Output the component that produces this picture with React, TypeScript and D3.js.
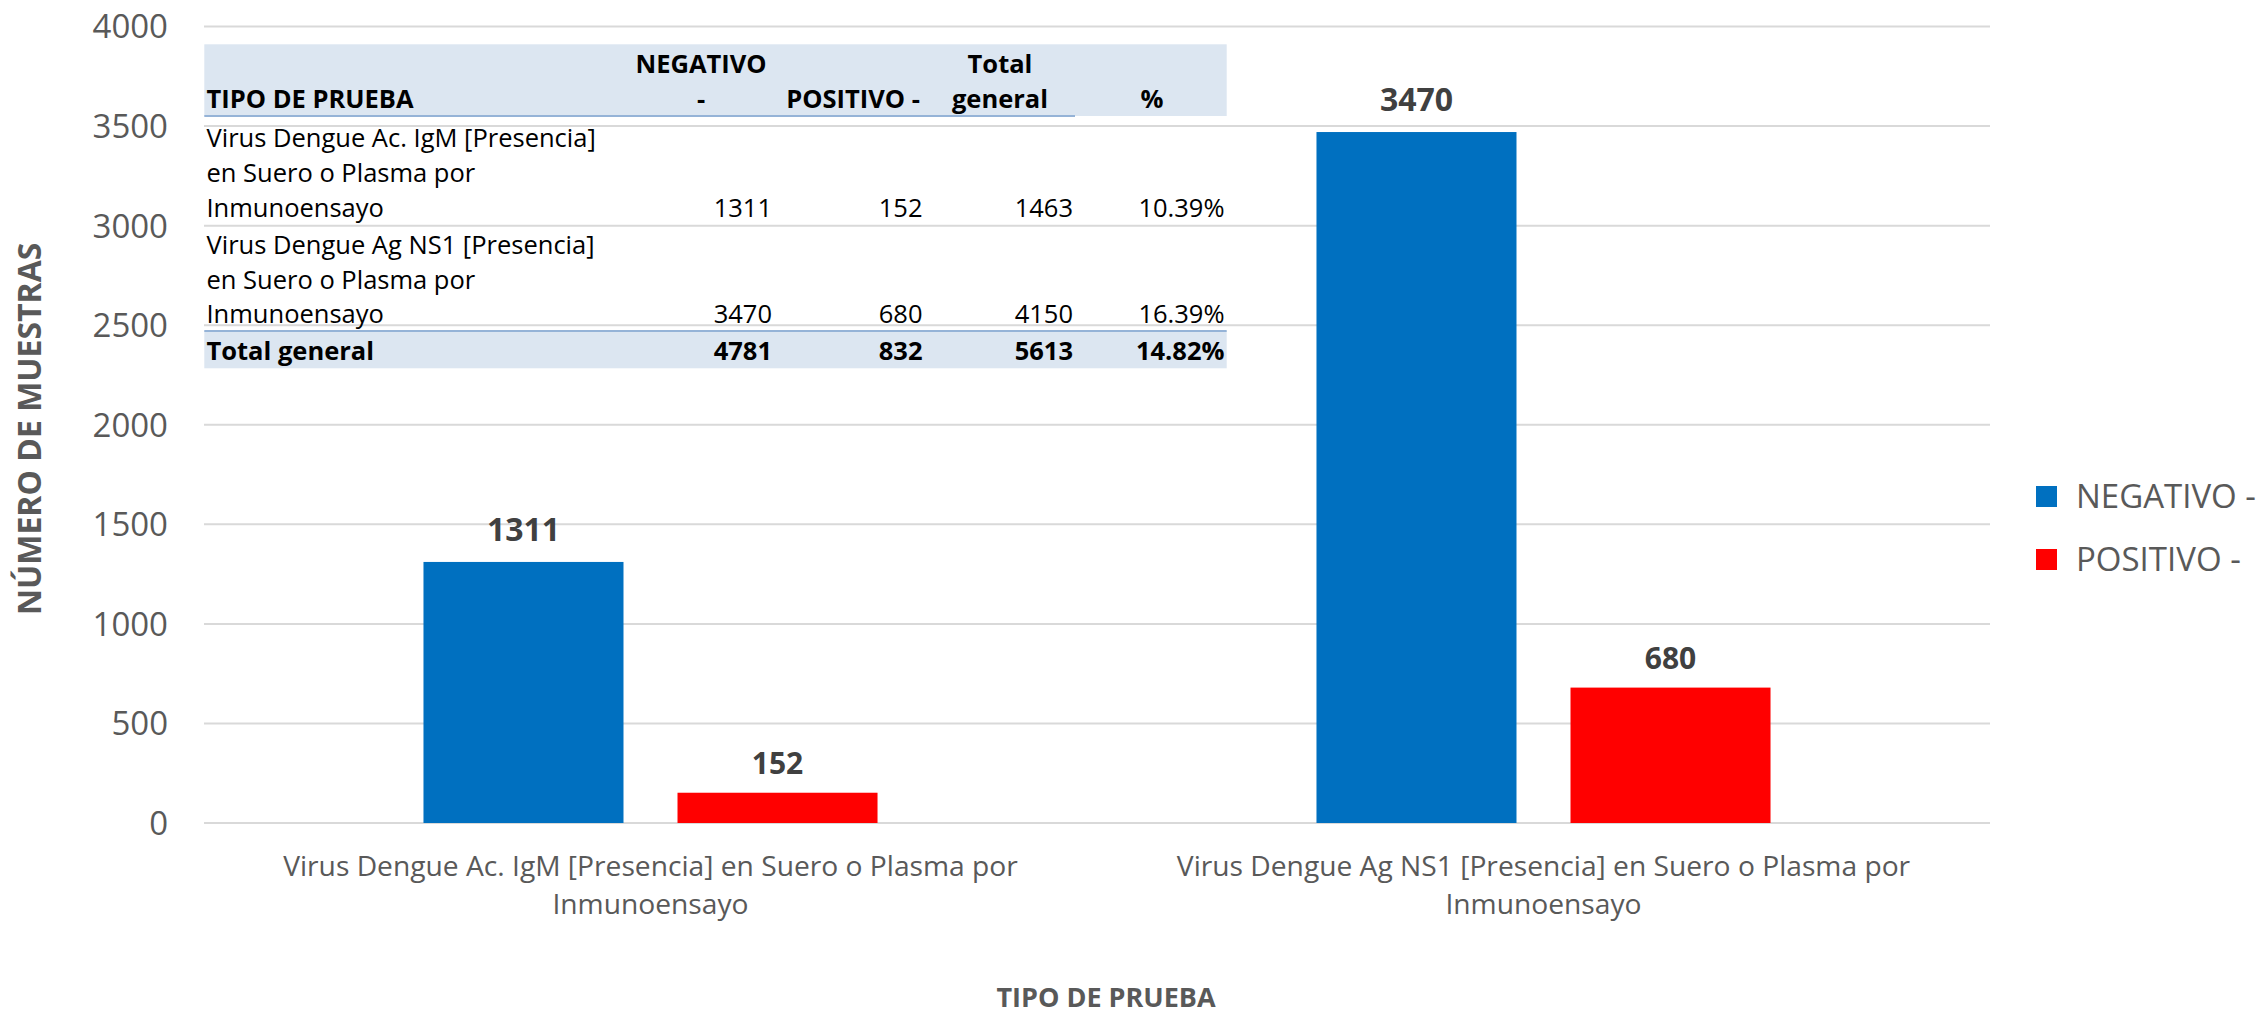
import React from "react";
import * as d3 from "d3";

const categories = [
  "Virus Dengue Ac. IgM [Presencia] en Suero o Plasma por Inmunoensayo",
  "Virus Dengue Ag NS1 [Presencia] en Suero o Plasma por Inmunoensayo",
];
const seriesNames = ["NEGATIVO -", "POSITIVO -"];
const negativos = [1311, 3470];
const positivos = [152, 680];
const totales = [1463, 4150];
const porcentajes = ["10.39%", "16.39%"];
const totalGeneral = ["4781", "832", "5613", "14.82%"];
const tableHeaders = ["TIPO DE PRUEBA", "NEGATIVO -", "POSITIVO -", "Total general", "%"];
const yTicks = [0, 500, 1000, 1500, 2000, 2500, 3000, 3500, 4000];
const yTitle = "NÚMERO DE MUESTRAS";
const xTitle = "TIPO DE PRUEBA";
const totalLabel = "Total general";

const W = 2259;
const H = 1017;
const FONT = "'Open Sans', 'DejaVu Sans', sans-serif";
const colors = ["#0070C0", "#FF0000"];

let ctx: CanvasRenderingContext2D | null = null;
function measure(text: string, font: string): number {
  if (!ctx && typeof document !== "undefined") {
    const c = document.createElement("canvas");
    ctx = c.getContext("2d");
  }
  if (!ctx) return text.length * 14;
  ctx.font = font;
  return ctx.measureText(text).width;
}
function wrap(text: string, maxW: number, font: string): string[] {
  const words = text.split(" ");
  const lines: string[] = [];
  let cur = "";
  for (const w of words) {
    const t = cur ? cur + " " + w : w;
    if (cur && measure(t, font) > maxW) {
      lines.push(cur);
      cur = w;
    } else cur = t;
  }
  if (cur) lines.push(cur);
  return lines;
}

export default function App() {
  const x0 = d3.scaleBand<string>().domain(categories).range([204, 1990]).padding(0);
  const x1 = d3
    .scaleBand<string>()
    .domain(seriesNames)
    .range([0, x0.bandwidth()])
    .paddingInner(0.2126)
    .paddingOuter(0.864);
  const y = d3.scaleLinear().domain([0, 4000]).range([823, 26.5]);
  const values = [negativos, positivos];

  const catFS = 28.2;
  const catFont = `${catFS}px ${FONT}`;
  const tblFont = `25.5px ${FONT}`;
  const labelFS = [32, 30];
  const labelDy = [-21, -18.5];

  // table layout
  const tL = 204.3, tR = 1226.7;
  const colRight = [0, 772, 922.5, 1073, 1224.5];
  const colCenter = [0, 701, 853, 1000, 1152];
  const rowFirstBase = [146.7, 254];
  const lineH = 35;

  return (
    <svg width={W} height={H} style={{ position: "absolute", left: 0, top: 0, display: "block" }} fontFamily={FONT}>
      <rect x={0} y={0} width={W} height={H} fill="#ffffff" />
      {/* gridlines */}
      {yTicks.map((t) => (
        <line key={"g" + t} x1={204} x2={1990} y1={y(t)} y2={y(t)} stroke="#D9D9D9" strokeWidth={2} />
      ))}
      {/* y tick labels */}
      {yTicks.map((t) => (
        <text key={"t" + t} x={168} y={y(t)} dy="0.36em" textAnchor="end" fontSize={33} fill="#595959">
          {t}
        </text>
      ))}
      {/* bars */}
      {categories.map((c, ci) => (
        <g key={c} transform={`translate(${x0(c)},0)`}>
          {seriesNames.map((s, si) => {
            const v = values[si][ci];
            const bx = x1(s)!;
            return (
              <g key={s}>
                <rect x={bx} y={y(v)} width={x1.bandwidth()} height={y(0) - y(v)} fill={colors[si]} />
                <text
                  x={bx + x1.bandwidth() / 2}
                  y={y(v) + labelDy[si]}
                  textAnchor="middle"
                  fontSize={labelFS[si]}
                  fontWeight="bold"
                  fill="#404040"
                >
                  {v}
                </text>
              </g>
            );
          })}
        </g>
      ))}
      {/* category labels */}
      {categories.map((c) => {
        const lines = wrap(c, 820, catFont);
        const cx = x0(c)! + x0.bandwidth() / 2;
        return (
          <text key={"c" + c} x={cx} y={876} textAnchor="middle" fontSize={catFS} fill="#595959">
            {lines.map((l, i) => (
              <tspan key={i} x={cx} dy={i === 0 ? 0 : 38}>
                {l}
              </tspan>
            ))}
          </text>
        );
      })}
      {/* axis titles */}
      <text x={1106} y={1007} textAnchor="middle" fontSize={27} fontWeight="bold" fill="#595959">
        {xTitle}
      </text>
      <text
        transform={`translate(41,${(y(0) + y(4000)) / 2 + 4}) rotate(-90)`}
        textAnchor="middle"
        fontSize={32}
        fontWeight="bold"
        fill="#595959"
      >
        {yTitle}
      </text>
      {/* legend */}
      {seriesNames.map((s, i) => (
        <g key={"l" + s} transform={`translate(2036,${486 + i * 63})`}>
          <rect x={0} y={0} width={21} height={21} fill={colors[i]} />
          <text x={40} y={10.5} dy="0.36em" fontSize={33} fill="#595959">
            {s}
          </text>
        </g>
      ))}
      {/* table */}
      <g fontSize={25.5} fill="#000000">
        <rect x={tL} y={44.3} width={tR - tL} height={116 - 44.3} fill="#DCE6F1" />
        <line x1={tL} x2={1075} y1={116} y2={116} stroke="#95B3D7" strokeWidth={2} />
        <rect x={tL} y={331} width={tR - tL} height={368.3 - 331} fill="#DCE6F1" />
        <line x1={tL} x2={tR} y1={331} y2={331} stroke="#95B3D7" strokeWidth={2} />
        {/* header */}
        <text x={206.5} y={108.3} fontWeight="bold">{tableHeaders[0]}</text>
        {tableHeaders.slice(1).map((h, i) => {
          const col = i + 1;
          const lines = h === "POSITIVO -" || h === "%" ? [h] : h.split(" ");
          const base = lines.length === 2 ? 73.3 : 108.3;
          return (
            <text key={h} x={colCenter[col]} y={base} textAnchor="middle" fontWeight="bold">
              {lines.map((l, li) => (
                <tspan key={li} x={colCenter[col]} dy={li === 0 ? 0 : lineH}>
                  {l}
                </tspan>
              ))}
            </text>
          );
        })}
        {/* rows */}
        {categories.map((c, ri) => {
          const lines = wrap(c, 410, tblFont);
          const b0 = rowFirstBase[ri];
          const lh = ri === 0 ? lineH : 34.6;
          const lastBase = b0 + (lines.length - 1) * lh;
          const cells = [String(negativos[ri]), String(positivos[ri]), String(totales[ri]), porcentajes[ri]];
          return (
            <g key={"r" + c}>
              <text x={206.5} y={b0}>
                {lines.map((l, li) => (
                  <tspan key={li} x={206.5} dy={li === 0 ? 0 : lh}>
                    {l}
                  </tspan>
                ))}
              </text>
              {cells.map((v, k) => (
                <text key={k} x={colRight[k + 1]} y={lastBase} textAnchor="end">
                  {v}
                </text>
              ))}
            </g>
          );
        })}
        <text x={206.5} y={360} fontWeight="bold">{totalLabel}</text>
        {totalGeneral.map((v, k) => (
          <text key={"tg" + k} x={colRight[k + 1]} y={360} textAnchor="end" fontWeight="bold">
            {v}
          </text>
        ))}
      </g>
    </svg>
  );
}
